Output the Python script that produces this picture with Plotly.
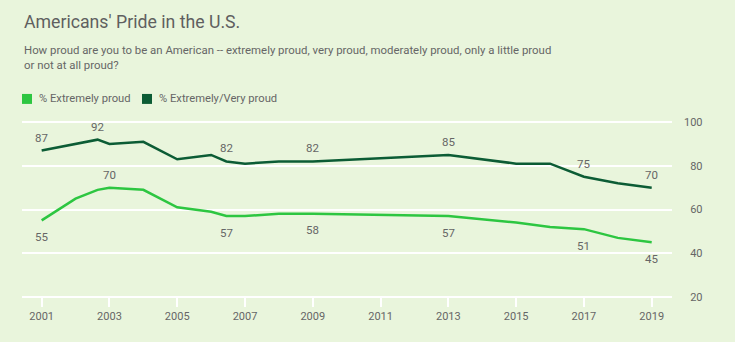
import plotly.graph_objects as go

# Survey waves (fractional years) and percentages
years = [2001, 2002, 2002.65, 2003, 2004, 2005, 2006, 2006.45, 2007, 2008,
         2009, 2013, 2015, 2016, 2017, 2018, 2019]
extremely_proud = [55, 65, 69, 70, 69, 61, 59, 57, 57, 58,
                   58, 57, 54, 52, 51, 47, 45]
extremely_very_proud = [87, 90, 92, 90, 91, 83, 85, 82, 81, 82,
                        82, 85, 81, 81, 75, 72, 70]

# Waves whose value is printed on the chart
extremely_labeled = [2001, 2003, 2006.45, 2009, 2013, 2017, 2019]
extremely_above = [2003]
very_labeled = [2001, 2002.65, 2006.45, 2009, 2013, 2017, 2019]

x_ticks = list(range(2001, 2020, 2))
y_ticks = [20, 40, 60, 80, 100]

series_names = ["% Extremely proud", "% Extremely/Very proud"]

BG = "#E9F5DC"
LIGHT = "#2DC641"
DARK = "#0C5C35"
TEXT = "#666666"
FONT = "Roboto"

W, H = 735, 342
# plot area: value 100 sits at y=122.3px, value 20 at y=297.3px
Y_LO, Y_HI = 19, 101
PX_PER_UNIT = (297.3 - 122.3) / 80
ML, MR = 22, 20
MT = 122.3 - (Y_HI - 100) * PX_PER_UNIT
MB = H - (297.3 + (20 - Y_LO) * PX_PER_UNIT)
PW, PH = W - ML - MR, H - MT - MB


def px(x, y):
    """Pixel position in the page -> paper coordinates."""
    return (x - ML) / PW, (H - MB - y) / PH


fig = go.Figure()
fig.add_trace(go.Scatter(x=years, y=extremely_proud, mode="lines",
                         line=dict(color=LIGHT, width=2.5),
                         name=series_names[0], hoverinfo="x+y"))
fig.add_trace(go.Scatter(x=years, y=extremely_very_proud, mode="lines",
                         line=dict(color=DARK, width=2.5),
                         name=series_names[1], hoverinfo="x+y"))

annotations = []
label_font = dict(family=FONT, size=11.5, color=TEXT)
for yr in extremely_labeled:
    v = extremely_proud[years.index(yr)]
    annotations.append(dict(x=yr, y=v, xref="x", yref="y", text=str(v),
                            showarrow=False, font=label_font,
                            yshift=13 if yr in extremely_above else -16.5))
for yr in very_labeled:
    v = extremely_very_proud[years.index(yr)]
    annotations.append(dict(x=yr, y=v, xref="x", yref="y", text=str(v),
                            showarrow=False, font=label_font, yshift=13))

# Title and question text
tx, ty = px(22, 21.5)
annotations.append(dict(x=tx, y=ty, xref="paper", yref="paper",
                        text="Americans' Pride in the U.S.", showarrow=False,
                        xanchor="left", yanchor="middle",
                        font=dict(family=FONT, size=17.7, color="#5f5f5f")))
sx, sy = px(22, 57.5)
annotations.append(dict(x=sx, y=sy, xref="paper", yref="paper",
                        text="How proud are you to be an American -- extremely proud, very proud, "
                             "moderately proud, only a little proud<br>or not at all proud?",
                        showarrow=False, xanchor="left", yanchor="middle", align="left",
                        font=dict(family=FONT, size=11.4, color=TEXT)))

# Legend: colour swatches with series names
shapes = []
legend_items = [(22, LIGHT, series_names[0]), (142, DARK, series_names[1])]
for lx, col, name in legend_items:
    x0, y0 = px(lx, 104)
    x1, y1 = px(lx + 10, 94)
    shapes.append(dict(type="rect", xref="paper", yref="paper",
                       x0=x0, y0=y0, x1=x1, y1=y1,
                       fillcolor=col, line=dict(width=0)))
    ax_, ay_ = px(lx + 15, 99)
    annotations.append(dict(x=ax_, y=ay_, xref="paper", yref="paper", text=name,
                            showarrow=False, xanchor="left", yanchor="middle",
                            font=dict(family=FONT, size=11.2, color=TEXT)))

x_end, _ = px(671.7, 0)
y_axis_pos, _ = px(683, 0)
_, x_axis_pos = px(0, 297.3)

# right-aligned value labels: pad shorter numbers with figure spaces
y_ticktext = ["\u2007" * (3 - len(str(t))) + str(t) for t in y_ticks]

fig.update_layout(
    width=W, height=H,
    margin=dict(l=ML, r=MR, t=MT, b=MB),
    paper_bgcolor=BG, plot_bgcolor=BG,
    showlegend=False,
    annotations=annotations,
    shapes=shapes,
    xaxis=dict(domain=[0, x_end], range=[2000.42, 2019.59],
               anchor="free", position=x_axis_pos,
               tickvals=x_ticks, ticktext=[str(t) for t in x_ticks],
               showgrid=False, zeroline=False, showline=False,
               ticks="outside", ticklen=9, tickwidth=2, tickcolor="white",
               tickfont=dict(family=FONT, size=11, color=TEXT)),
    yaxis=dict(range=[Y_LO, Y_HI], tickvals=y_ticks, ticktext=y_ticktext,
               side="right", anchor="free", position=y_axis_pos,
               ticks="", ticklen=0,
               showgrid=True, gridcolor="white", gridwidth=2,
               zeroline=False, showline=False,
               tickfont=dict(family=FONT, size=11, color=TEXT)),
)

fig.write_html("out.html")
